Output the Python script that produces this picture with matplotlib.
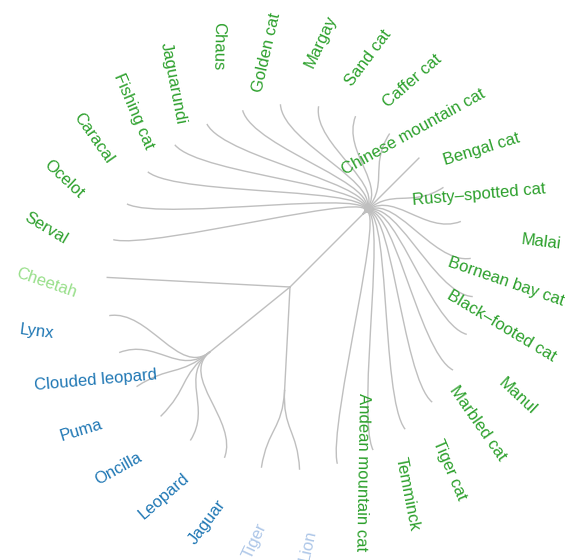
import numpy as np
import matplotlib.pyplot as plt
from matplotlib.path import Path
from matplotlib.patches import PathPatch

plt.rcParams['font.family'] = ['Liberation Sans', 'DejaVu Sans']

# leaves of each clade, counterclockwise from the lower right
green_cats = ["Andean mountain cat", "Temminck", "Tiger cat", "Marbled cat", "Manul",
              "Black–footed cat", "Bornean bay cat", "Malai", "Rusty–spotted cat",
              "Bengal cat", "Chinese mountain cat", "Caffer cat", "Sand cat", "Margay",
              "Golden cat", "Chaus", "Jaguarundi", "Fishing cat", "Caracal", "Ocelot",
              "Serval"]
cheetah = ["Cheetah"]
blue_cats = ["Lynx", "Clouded leopard", "Puma", "Oncilla", "Leopard", "Jaguar"]
big_cats = ["Tiger", "Lion"]

groups = [green_cats, cheetah, blue_cats, big_cats]
group_colors = ["#2ca02c", "#98df8a", "#1f77b4", "#aec7e8"]

# layout
start_angle = -75
n_leaves = sum(len(g) for g in groups)
step = 360 / n_leaves
r_leaf = 183
r_node = 103
r_label = 274
line_color = "#bfbfbf"


def polar(a, r):
    a = np.deg2rad(a)
    return r * np.cos(a), r * np.sin(a)


fig = plt.figure(figsize=(5.65, 5.6), dpi=100)
ax = fig.add_axes([0, 0, 1, 1])

k = 0
for leaves, color in zip(groups, group_colors):
    angles = [start_angle + step * (k + i) for i in range(len(leaves))]
    k += len(leaves)

    if len(leaves) == 1:
        # leaf hanging straight off the root
        x, y = polar(angles[0], r_leaf)
        ax.plot([0, x], [0, y], color=line_color, lw=1.0)
    else:
        a_node = np.mean(angles)
        nx, ny = polar(a_node, r_node)
        ax.plot([0, nx], [0, ny], color=line_color, lw=1.0)
        mid = (r_node + r_leaf) / 2
        for a in angles:
            verts = [polar(a_node, r_node), polar(a_node, mid), polar(a, mid), polar(a, r_leaf)]
            codes = [Path.MOVETO, Path.CURVE4, Path.CURVE4, Path.CURVE4]
            ax.add_patch(PathPatch(Path(verts, codes), facecolor="none",
                                   edgecolor=line_color, lw=1.0))

    for name, a in zip(leaves, angles):
        tx, ty = polar(a, r_label)
        rel = (a - 9) % 360
        if rel <= 90 or rel >= 270:
            rot, ha = a - 16, "right"
        else:
            rot, ha = a + 180 - 16, "left"
        ax.text(tx, ty, name, color=color, fontsize=12, rotation=rot,
                rotation_mode="anchor", ha=ha, va="center")

ax.set_xlim(-290, 275)
ax.set_ylim(-273, 287)
ax.axis("off")

fig.savefig("out.png", dpi=100)
